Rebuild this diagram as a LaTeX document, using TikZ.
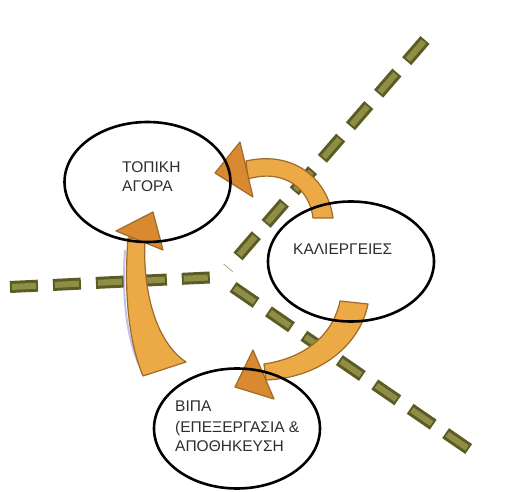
\documentclass[tikz,border=0pt]{standalone}
\usepackage{fontspec}
\setmainfont{Liberation Sans}
\usetikzlibrary{shapes.geometric}
\definecolor{olivedark}{HTML}{5C5B22}
\definecolor{olivelight}{HTML}{8F8E48}
\definecolor{arrowfill}{HTML}{EBAA45}
\definecolor{arrowedge}{HTML}{A06A28}
\definecolor{headfill}{HTML}{D98A30}
\definecolor{shadowblue}{HTML}{9A9ADA}
\definecolor{labelgray}{HTML}{2E2E2E}
\tikzset{
  roadouter/.style={line width=12pt, draw=olivedark, dash pattern=on 28pt off 15pt},
  roadinner/.style={line width=6pt, draw=olivelight, dash pattern=on 24pt off 19pt, dash phase=41pt},
  shaft/.style={fill=arrowfill, draw=arrowedge, line width=1.2pt, line join=round},
  head/.style={fill=headfill, draw=arrowedge, line width=1.2pt, line join=round},
  place/.style={ellipse, draw=black, line width=2.6pt, minimum width=166pt, minimum height=120pt, inner sep=0pt},
  lbl/.style={anchor=base west, inner sep=0pt, font=\fontsize{15.5}{18}\selectfont, text=labelgray}
}
\begin{document}
\begin{tikzpicture}[x=1pt,y=-1pt]
\path[use as bounding box, fill=white] (0,0) rectangle (515,492);

% road coordinates
\coordinate (r1a) at (425,40);  \coordinate (r1b) at (228,268);
\coordinate (r2a) at (10,287);  \coordinate (r2b) at (220,277);
\coordinate (r3a) at (233,287); \coordinate (r3b) at (473,452);
\foreach \a/\b in {r1a/r1b, r2a/r2b, r3a/r3b}{
  \draw[roadouter] (\a) -- (\b);
  \draw[roadinner] (\a) -- (\b);
}

% arrow A: ΚΑΛΙΕΡΓΕΙΕΣ -> ΤΟΠΙΚΗ ΑΓΟΡΑ
\coordinate (aTip) at (215,173);
\coordinate (aC1) at (240,142);
\coordinate (aC2) at (253,197);
\path[shaft] (313,218) -- (333,218) .. controls (328,180) and (295,150) .. (246,161)
  -- (248,179) .. controls (285,168) and (310,190) .. (313,218) -- cycle;
\path[head] (aTip) -- (aC1) -- (aC2) -- cycle;

% arrow B: ΒΙΠΑ -> ΤΟΠΙΚΗ ΑΓΟΡΑ
\coordinate (bTip) at (153,212);
\coordinate (bC1) at (116,231);
\coordinate (bC2) at (163,250);
\draw[shadowblue, line width=2pt, opacity=0.6] (125,250) .. controls (122,295) and (126,335) .. (139,365);
\path[shaft] (128,238) .. controls (124,290) and (128,340) .. (143,376) -- (186,362)
  .. controls (160,345) and (142,300) .. (145,238) -- cycle;
\path[head] (bTip) -- (bC1) -- (bC2) -- cycle;

% arrow C: ΚΑΛΙΕΡΓΕΙΕΣ -> ΒΙΠΑ
\coordinate (cTip) at (235,387);
\coordinate (cC1) at (253,350);
\coordinate (cC2) at (274,399);
\path[shaft] (340,301) -- (368,304) .. controls (360,345) and (320,378) .. (266,380)
  -- (264,364) .. controls (305,358) and (333,335) .. (340,301) -- cycle;
\path[head] (cTip) -- (cC1) -- (cC2) -- cycle;

% places
\node[place] (agora) at (147.5,182) {};
\node[place] (kall) at (351,261.5) {};
\node[place] (vipa) at (237,428.5) {};

% labels
\node[lbl] (t1) at (122,173) {ΤΟΠΙΚΗ};
\node[lbl] (t2) at (122,192) {ΑΓΟΡΑ};
\node[lbl] (k1) at (293,255) {ΚΑΛΙΕΡΓΕΙΕΣ};
\node[lbl] (v1) at (175,412) {ΒΙΠΑ};
\node[lbl] (v2) at (175,432) {(ΕΠΕΞΕΡΓΑΣΙΑ \&};
\node[lbl] (v3) at (175,451) {ΑΠΟΘΗΚΕΥΣΗ};
\end{tikzpicture}
\end{document}
